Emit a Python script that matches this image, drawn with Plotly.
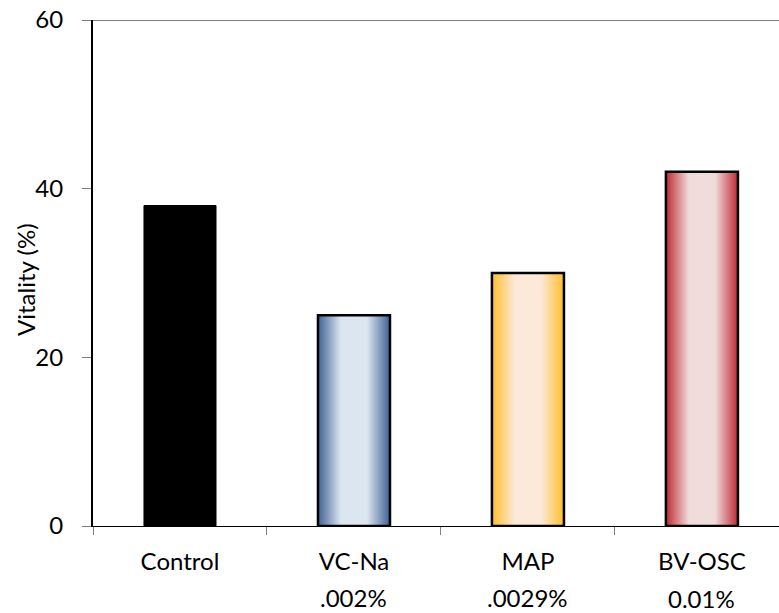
import plotly.graph_objects as go

# Data
categories = ["Control", "VC-Na", "MAP", "BV-OSC"]
concentrations = ["", ".002%", ".0029%", "0.01%"]
vitality = [38, 25, 30, 42]

# Styling: (edge colour, centre colour) for each bar's horizontal gradient
bar_colors = [
    ("#000000", "#000000"),
    ("#3F6193", "#DCE6F1"),
    ("#FFBE2A", "#FCE9DA"),
    ("#BF2A32", "#F1DCDC"),
]
bar_width = 0.414
FONT = "Lato, 'Open Sans', sans-serif"

WIDTH, HEIGHT = 779, 613
MARGIN = dict(l=93, r=0, t=20, b=87)
plot_w = WIDTH - MARGIN["l"] - MARGIN["r"]
plot_h = HEIGHT - MARGIN["t"] - MARGIN["b"]

fig = go.Figure()

for i, (cat, val, (edge, centre)) in enumerate(zip(categories, vitality, bar_colors)):
    x0, x1 = i - bar_width / 2, i + bar_width / 2
    fig.add_trace(go.Scatter(
        x=[x0, x1, x1, x0, x0],
        y=[0, 0, val, val, 0],
        mode="lines",
        fill="toself",
        fillgradient=dict(
            type="horizontal",
            colorscale=[[0, edge], [0.32, centre], [0.5, centre],
                        [0.68, centre], [1, edge]],
        ),
        line=dict(color="#000000", width=2.5 if i else 1),
        name=cat,
        hoverinfo="skip",
        showlegend=False,
    ))

# Concentration labels under the category names
for i, conc in enumerate(concentrations):
    if conc:
        fig.add_annotation(
            x=i, y=0, xref="x", yref="y",
            text=conc, showarrow=False,
            yanchor="middle", yshift=-71 if conc != "0.01%" else -72,
            font=dict(family=FONT, size=24, color="#000000"),
        )

# Grey frame line at the top of the plot area
fig.add_shape(type="line", xref="paper", yref="y", x0=0, x1=1, y0=60, y1=60,
              line=dict(color="#808080", width=2), layer="above")

# Y-axis title, rotated, placed beside the tick labels
fig.add_annotation(
    x=(26 - MARGIN["l"]) / plot_w, y=(HEIGHT - MARGIN["b"] - 280) / plot_h,
    xref="paper", yref="paper", xanchor="center", yanchor="middle",
    text="Vitality (%)", showarrow=False, textangle=-90,
    font=dict(family=FONT, size=24, color="#000000"),
)

fig.update_layout(
    width=WIDTH, height=HEIGHT,
    margin=MARGIN,
    paper_bgcolor="white", plot_bgcolor="white",
    font=dict(family=FONT, size=24, color="#000000"),
    xaxis=dict(
        range=[-0.5, 3.443],
        tickvals=list(range(len(categories))),
        ticktext=categories,
        ticks="",
        ticklabelstandoff=14,
        showline=True, linecolor="#000000", linewidth=1,
        showgrid=False, zeroline=False,
        minor=dict(tickvals=[-0.5, 0.5, 1.5, 2.5], ticks="outside",
                   ticklen=8, tickcolor="#808080", tickwidth=1),
        fixedrange=True,
    ),
    yaxis=dict(
        range=[0, 60],
        tickvals=[0, 20, 40, 60],
        ticks="outside", ticklen=9, tickcolor="#808080", tickwidth=1,
        ticklabelstandoff=14,
        showline=True, linecolor="#000000", linewidth=2,
        showgrid=False, zeroline=False,
        fixedrange=True,
    ),
)

fig.write_html("out.html")
